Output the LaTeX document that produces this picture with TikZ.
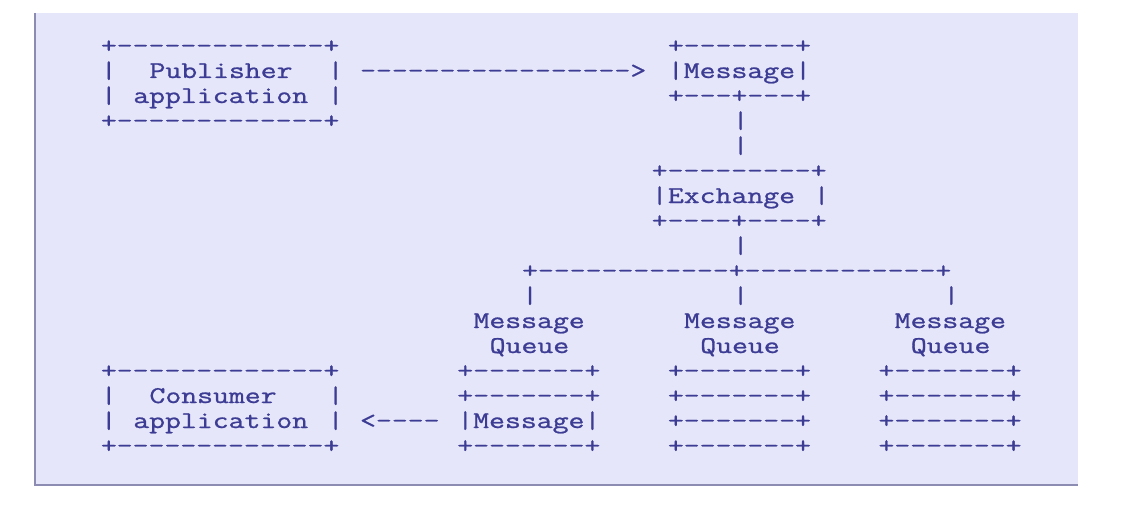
\documentclass[tikz,border=0pt]{standalone}
\usepackage{graphicx}
\definecolor{ink}{RGB}{60,60,148}
\definecolor{lav}{RGB}{230,230,250}
\definecolor{frame}{RGB}{140,140,178}
\tikzset{asc/.style={anchor=base west, inner sep=0pt, outer sep=0pt, text=ink,
  font=\fontsize{24}{24}\selectfont\ttfamily}}
\newcommand\Dn[1]{\foreach\i in {1,...,#1}{-}}
\newcommand\heavy[1]{\special{pdf:literal direct 2 Tr 0.22 w}#1\special{pdf:literal direct 0 Tr}}
\newcommand\ascnode[4]{\node[asc] (#1) at ({109+16.2*(#2)-8.1},{53+25*(#3)}) {\scalebox{1.286}[1]{\heavy{#4}}};}
\begin{document}
\begin{tikzpicture}[x=1pt,y=-1pt]
\useasboundingbox (0,0) rectangle (1142,505);
\fill[white] (0,0) rectangle (1142,505);
\fill[lav] (35,13) rectangle (1078,485);
\draw[frame,line width=2.5pt] (35,13) -- (35,485) -- (1078,485);
% Publisher application
\ascnode{pubT}{0}{0}{+\Dn{13}+}
\ascnode{pubL1}{0}{1}{|}
\ascnode{pubA}{3}{1}{Publisher}
\ascnode{pubR1}{14}{1}{|}
\ascnode{pubL2}{0}{2}{|}
\ascnode{pubB}{2}{2}{application}
\ascnode{pubR2}{14}{2}{|}
\ascnode{pubBot}{0}{3}{+\Dn{13}+}
% arrow to message
\ascnode{arrowPub}{16}{1}{\Dn{17}>}
% Message
\ascnode{msgT}{35}{0}{+\Dn{7}+}
\ascnode{msgM}{35}{1}{|Message|}
\ascnode{msgB}{35}{2}{+\Dn{3}+\Dn{3}+}
\ascnode{lnkA}{39}{3}{|}
\ascnode{lnkB}{39}{4}{|}
% Exchange
\ascnode{exT}{34}{5}{+\Dn{9}+}
\ascnode{exL}{34}{6}{|}
\ascnode{exM}{35}{6}{Exchange}
\ascnode{exR}{44}{6}{|}
\ascnode{exB}{34}{7}{+\Dn{4}+\Dn{4}+}
\ascnode{lnkC}{39}{8}{|}
% fan-out
\ascnode{fan}{26}{9}{+\Dn{12}+\Dn{12}+}
\ascnode{fanA}{26}{10}{|}
\ascnode{fanB}{39}{10}{|}
\ascnode{fanC}{52}{10}{|}
% queue labels
\ascnode{qlA}{23}{11}{Message}
\ascnode{qlB}{36}{11}{Message}
\ascnode{qlC}{49}{11}{Message}
\ascnode{qqA}{24}{12}{Queue}
\ascnode{qqB}{37}{12}{Queue}
\ascnode{qqC}{50}{12}{Queue}
% queues
\ascnode{qA1}{22}{13}{+\Dn{7}+}
\ascnode{qA2}{22}{14}{+\Dn{7}+}
\ascnode{qA3}{22}{15}{|Message|}
\ascnode{qA4}{22}{16}{+\Dn{7}+}
\ascnode{qB1}{35}{13}{+\Dn{7}+}
\ascnode{qB2}{35}{14}{+\Dn{7}+}
\ascnode{qB3}{35}{15}{+\Dn{7}+}
\ascnode{qB4}{35}{16}{+\Dn{7}+}
\ascnode{qC1}{48}{13}{+\Dn{7}+}
\ascnode{qC2}{48}{14}{+\Dn{7}+}
\ascnode{qC3}{48}{15}{+\Dn{7}+}
\ascnode{qC4}{48}{16}{+\Dn{7}+}
% Consumer application
\ascnode{conT}{0}{13}{+\Dn{13}+}
\ascnode{conL1}{0}{14}{|}
\ascnode{conA}{3}{14}{Consumer}
\ascnode{conR1}{14}{14}{|}
\ascnode{conL2}{0}{15}{|}
\ascnode{conB}{2}{15}{application}
\ascnode{conR2}{14}{15}{|}
\ascnode{conBot}{0}{16}{+\Dn{13}+}
% arrow to consumer
\ascnode{arrowCon}{16}{15}{<\Dn{4}}
\end{tikzpicture}
\end{document}
